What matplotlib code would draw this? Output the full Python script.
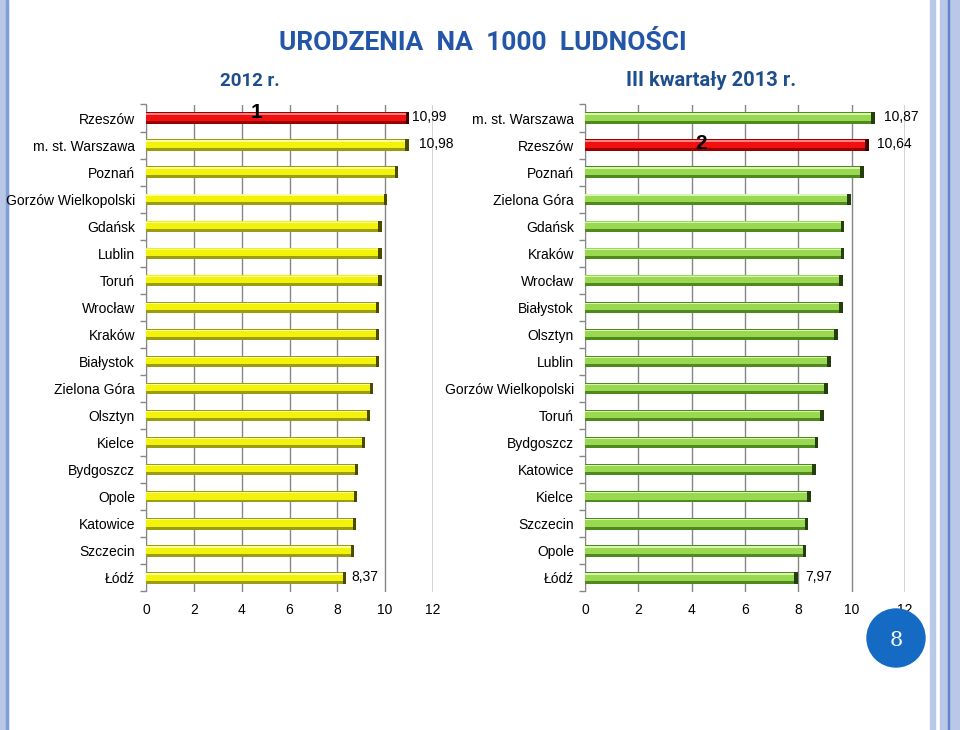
import numpy as np
import matplotlib
matplotlib.use("Agg")
import matplotlib.pyplot as plt
from matplotlib.patches import Circle, Rectangle

plt.rcParams['font.family'] = ['Liberation Sans', 'DejaVu Sans']

# ---- data ----
cities_2012 = ["Rzeszów", "m. st. Warszawa", "Poznań", "Gorzów Wielkopolski", "Gdańsk",
               "Lublin", "Toruń", "Wrocław", "Kraków", "Białystok", "Zielona Góra",
               "Olsztyn", "Kielce", "Bydgoszcz", "Opole", "Katowice", "Szczecin", "Łódź"]
values_2012 = [10.99, 10.98, 10.53, 10.07, 9.85, 9.85, 9.85, 9.75, 9.74, 9.73, 9.49,
               9.36, 9.15, 8.87, 8.82, 8.79, 8.71, 8.37]

cities_2013 = ["m. st. Warszawa", "Rzeszów", "Poznań", "Zielona Góra", "Gdańsk", "Kraków",
               "Wrocław", "Białystok", "Olsztyn", "Lublin", "Gorzów Wielkopolski", "Toruń",
               "Bydgoszcz", "Katowice", "Kielce", "Szczecin", "Opole", "Łódź"]
values_2013 = [10.87, 10.64, 10.46, 9.96, 9.72, 9.72, 9.67, 9.66, 9.47, 9.21, 9.10,
               8.96, 8.75, 8.66, 8.47, 8.37, 8.30, 7.97]

highlight_city = "Rzeszów"
value_labels_2012 = {0: "10,99", 1: "10,98", 17: "8,37"}
value_labels_2013 = {0: "10,87", 1: "10,64", 17: "7,97"}
x_ticks = [0, 2, 4, 6, 8, 10, 12]

title = "URODZENIA  NA  1000  LUDNOŚCI"
sub_left = "2012 r."
sub_right = "III kwartały 2013 r."

W, H = 960, 730
fig = plt.figure(figsize=(W / 100, H / 100), dpi=100)
fig.patch.set_facecolor("white")


def px(x0, y0, x1, y1):
    return [x0 / W, 1 - y1 / H, (x1 - x0) / W, (y1 - y0) / H]


palettes = {
    "yellow": dict(dark="#9c9c10", body="#f2f20a", light="#ffff9a", cap="#4a4a00"),
    "green": dict(dark="#4f8a1c", body="#9ad852", light="#d6f5b0", cap="#253f0c"),
    "red": dict(dark="#9a0000", body="#f01010", light="#ff8080", cap="#400000"),
}


def draw_panel(rect, cats, vals, base, labels, label_offsets):
    ax = fig.add_axes(rect)
    n = len(cats)
    y = np.arange(n)
    vals = np.array(vals)
    for yi, v, c in zip(y, vals, cats):
        pal = palettes["red"] if c == highlight_city else palettes[base]
        ax.barh(yi, v, height=0.42, color=pal["dark"], zorder=3)
        ax.barh(yi - 0.04, v, height=0.28, color=pal["body"], zorder=4)
        ax.barh(yi - 0.15, v, height=0.05, color=pal["light"], zorder=5)
        ax.barh(yi, 0.13, left=v - 0.13, height=0.42, color=pal["cap"], zorder=6)
    ax.set_xlim(0, 12)
    ax.set_ylim(n - 0.5, -0.5)
    ax.set_xticks(x_ticks)
    ax.set_xticklabels([str(t) for t in x_ticks], fontsize=10)
    ax.set_yticks(y)
    ax.set_yticklabels(cats, fontsize=10)
    ax.tick_params(axis='y', which='major', length=0, pad=8)
    ax.set_yticks(np.arange(n + 1) - 0.5, minor=True)
    ax.tick_params(axis='y', which='minor', length=4, color="#868686", width=1)
    ax.tick_params(axis='x', length=0, pad=8)
    ax.grid(axis='x', color="#868686", linewidth=1, zorder=0)
    for s in ["top", "bottom", "right"]:
        ax.spines[s].set_visible(False)
    ax.spines["left"].set_color("#868686")
    ax.axvline(12, color="#868686", linewidth=1, zorder=0)
    for (i, t), off in zip(labels.items(), label_offsets):
        ax.text(vals[i] + off, i - 0.05, t, va="center", ha="left", fontsize=10, zorder=7)
    return ax


axL = draw_panel(px(146, 104.5, 433, 591.5), cities_2012, values_2012, "yellow",
                 value_labels_2012, [0.12, 0.45, 0.2])
axR = draw_panel(px(585, 104.5, 905, 591.5), cities_2013, values_2013, "green",
                 value_labels_2013, [0.35, 0.3, 0.3])

# rank markers
axL.text(4.6, -0.2, "1", ha="center", va="center", fontsize=15, fontweight="bold", zorder=8)
axR.text(4.35, 0.95, "2", ha="center", va="center", fontsize=15, fontweight="bold", zorder=8)

# title & subtitles
fig.text(483 / W, 1 - 43 / H, title, ha="center", va="center", fontsize=19,
         fontweight="bold", color="#2456a8", family="Roboto")
fig.text(250 / W, 1 - 81 / H, sub_left, ha="center", va="center", fontsize=13.5,
         color="#1f4e8c", family="Roboto", fontweight="bold")
fig.text(711 / W, 1 - 81 / H, sub_right, ha="center", va="center", fontsize=14.5,
         color="#1f4e8c", family="Roboto", fontweight="bold")

# decorative side stripes
bg = fig.add_axes([0, 0, 1, 1], zorder=-1)
bg.set_xlim(0, W)
bg.set_ylim(H, 0)
bg.axis("off")
bg.add_patch(Rectangle((0, 0), 8, H, color="#b8c8e6"))
bg.add_patch(Rectangle((6, 0), 1.5, H, color="#7f9fd6"))
bg.add_patch(Rectangle((930, 0), 5, H, color="#b8c8e6"))
bg.add_patch(Rectangle((940, 0), 20, H, color="#b8c8e6"))
bg.add_patch(Rectangle((947.5, 0), 1.5, H, color="#5a84cc"))

# page number circle
top = fig.add_axes([0, 0, 1, 1], zorder=10)
top.set_xlim(0, W)
top.set_ylim(H, 0)
top.axis("off")
top.add_patch(Circle((896, 638), 29, color="#156ac4"))
top.text(896, 640, "8", ha="center", va="center", color="white", fontsize=15,
         family="DejaVu Serif")

fig.savefig("out.png", dpi=100)
